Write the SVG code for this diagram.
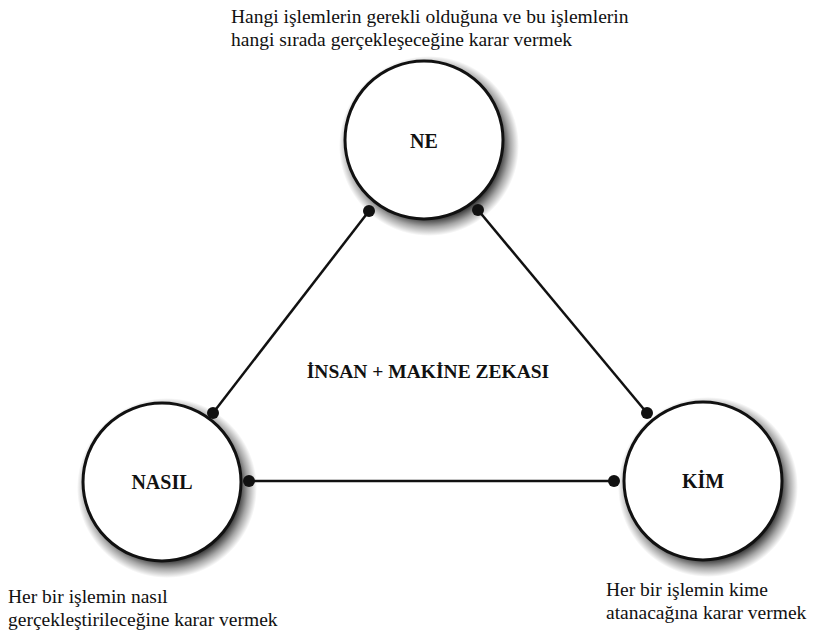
<svg xmlns="http://www.w3.org/2000/svg" width="829" height="634" viewBox="0 0 829 634">
<defs>
<radialGradient id="sg">
<stop offset="0.8" stop-color="#000" stop-opacity="0.8"/>
<stop offset="0.9" stop-color="#000" stop-opacity="0.35"/>
<stop offset="1" stop-color="#000" stop-opacity="0"/>
</radialGradient>
</defs>
<rect width="829" height="634" fill="#fff"/>
<g id="connectors" stroke="#111" stroke-width="2.5" fill="none">
<line x1="213" y1="413" x2="369" y2="211"/>
<line x1="478" y1="210" x2="647" y2="413"/>
<line x1="249" y1="481" x2="614" y2="481"/>
</g>
<g id="ne">
<circle cx="429" cy="146" r="90" fill="url(#sg)"/>
<circle cx="424" cy="140" r="79" fill="#fff" stroke="#111" stroke-width="3"/>
<text x="424" y="148" font-family="Liberation Serif" font-size="20" font-weight="bold" fill="#111" text-anchor="middle">NE</text>
</g>
<g id="nasil">
<circle cx="167" cy="488" r="90" fill="url(#sg)"/>
<circle cx="162" cy="482" r="79" fill="#fff" stroke="#111" stroke-width="3"/>
<text x="162" y="489" font-family="Liberation Serif" font-size="20" font-weight="bold" fill="#111" text-anchor="middle">NASIL</text>
</g>
<g id="kim">
<circle cx="708" cy="487" r="90" fill="url(#sg)"/>
<circle cx="703" cy="481" r="79" fill="#fff" stroke="#111" stroke-width="3"/>
<text x="703" y="488" font-family="Liberation Serif" font-size="20" font-weight="bold" fill="#111" text-anchor="middle">KİM</text>
</g>
<g id="dots" fill="#111">
<circle cx="369" cy="211" r="6"/>
<circle cx="478" cy="210" r="6"/>
<circle cx="213" cy="413" r="6"/>
<circle cx="647" cy="413" r="6"/>
<circle cx="249" cy="481" r="6"/>
<circle cx="614" cy="481" r="6"/>
</g>
<g id="center">
<text x="428" y="378" font-family="Liberation Serif" font-size="19.5" font-weight="bold" fill="#111" text-anchor="middle">İNSAN + MAKİNE ZEKASI</text>
</g>
<g id="labels" fill="#111">
<text x="231" y="23" font-family="Liberation Serif" font-size="19.5">Hangi işlemlerin gerekli olduğuna ve bu işlemlerin</text>
<text x="231" y="46" font-family="Liberation Serif" font-size="19.5">hangi sırada gerçekleşeceğine karar vermek</text>
<text x="8" y="603" font-family="Liberation Serif" font-size="19.5">Her bir işlemin nasıl</text>
<text x="8" y="626" font-family="Liberation Serif" font-size="19.5">gerçekleştirileceğine karar vermek</text>
<text x="606" y="596" font-family="Liberation Serif" font-size="19.5">Her bir işlemin kime</text>
<text x="606" y="619" font-family="Liberation Serif" font-size="19.5">atanacağına karar vermek</text>
</g>
</svg>
